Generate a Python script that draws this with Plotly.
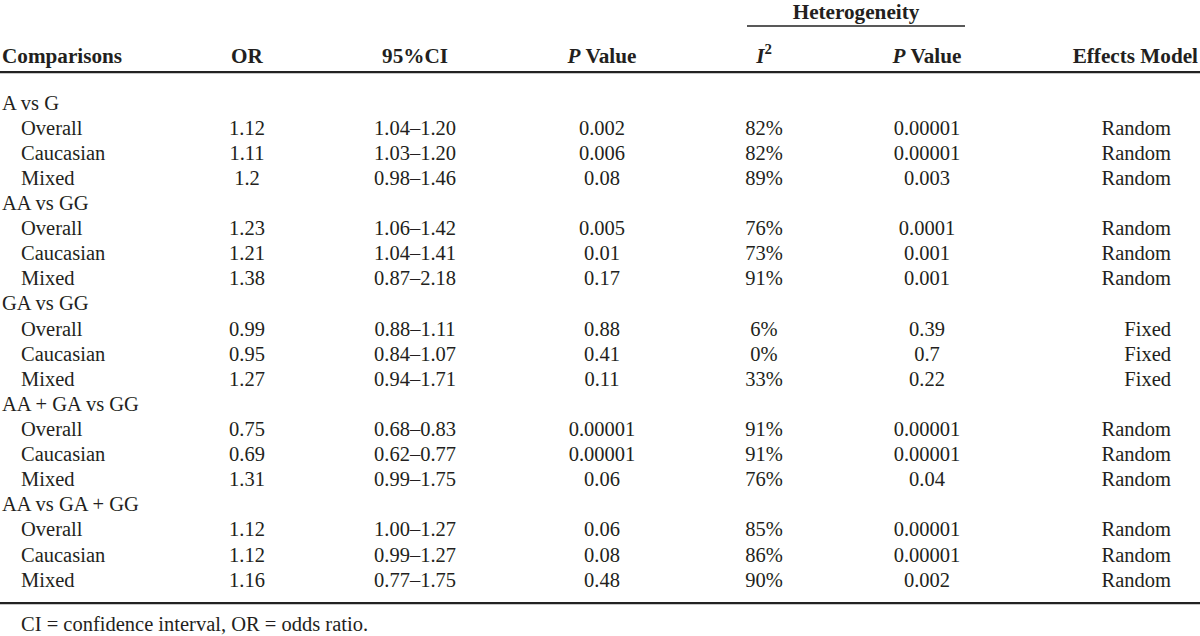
import plotly.graph_objects as go

# ---------------- data ----------------
groups = ["A vs G", "AA vs GG", "GA vs GG", "AA + GA vs GG", "AA vs GA + GG"]
subgroups = ["Overall", "Caucasian", "Mixed"]
odds_ratio = ["1.12", "1.11", "1.2", "1.23", "1.21", "1.38", "0.99", "0.95", "1.27",
              "0.75", "0.69", "1.31", "1.12", "1.12", "1.16"]
ci95 = ["1.04–1.20", "1.03–1.20", "0.98–1.46", "1.06–1.42", "1.04–1.41", "0.87–2.18",
        "0.88–1.11", "0.84–1.07", "0.94–1.71", "0.68–0.83", "0.62–0.77", "0.99–1.75",
        "1.00–1.27", "0.99–1.27", "0.77–1.75"]
p_value = ["0.002", "0.006", "0.08", "0.005", "0.01", "0.17", "0.88", "0.41", "0.11",
           "0.00001", "0.00001", "0.06", "0.06", "0.08", "0.48"]
i_squared = ["82%", "82%", "89%", "76%", "73%", "91%", "6%", "0%", "33%",
             "91%", "91%", "76%", "85%", "86%", "90%"]
het_p = ["0.00001", "0.00001", "0.003", "0.0001", "0.001", "0.001", "0.39", "0.7", "0.22",
         "0.00001", "0.00001", "0.04", "0.00001", "0.00001", "0.002"]
effects_model = ["Random"] * 6 + ["Fixed"] * 3 + ["Random"] * 6
headers = ["Comparisons", "OR", "95%CI", "<i>P</i> Value", "<i>I</i><sup>2</sup>",
           "<i>P</i> Value", "Effects Model"]
super_header = "Heterogeneity"
footnote = "CI = confidence interval, OR = odds ratio."

# ---------------- styling ----------------
FONT = "Liberation Serif, Times New Roman, serif"
COLOR = "#231f20"
SIZE = 20.5
HSIZE = 21.2

# row indices: each group row is followed by its subgroup rows
group_rows = [i * (len(subgroups) + 1) for i in range(len(groups))]
sub_rows = [g + 1 + k for g in group_rows for k in range(len(subgroups))]
sub_labels = subgroups * len(groups)

# column anchors (pixel units on the x axis)
X_LEFT, X_SUB = 2, 21
X_OR, X_CI, X_P, X_I2, X_HP = 247, 415, 602, 764, 927
X_EFF_VAL, X_EFF_HEAD = 1171, 1198

HEADER_ROW = -1.87
SUPER_ROW = -3.62
FOOT_ROW = 20.76

fig = go.Figure()

def text_trace(xs, ys, texts, pos, bold=False, size=SIZE):
    fig.add_trace(go.Scatter(
        x=xs, y=ys, text=[f"<b>{t}</b>" if bold else t for t in texts],
        mode="text", textposition=pos, hoverinfo="skip", showlegend=False,
        cliponaxis=False,
        textfont=dict(family=FONT, size=size, color=COLOR)))

# body
text_trace([X_LEFT] * len(groups), group_rows, groups, "middle right")
text_trace([X_SUB] * len(sub_rows), sub_rows, sub_labels, "middle right")
for xc, col in [(X_OR, odds_ratio), (X_CI, ci95), (X_P, p_value),
                (X_I2, i_squared), (X_HP, het_p)]:
    text_trace([xc] * len(sub_rows), sub_rows, col, "middle center")
text_trace([X_EFF_VAL] * len(sub_rows), sub_rows, effects_model, "middle left")

# headers
text_trace([X_LEFT], [HEADER_ROW], [headers[0]], "middle right", bold=True, size=HSIZE)
text_trace([X_OR, X_CI, X_P, X_I2, X_HP], [HEADER_ROW] * 5, headers[1:6],
           "middle center", bold=True, size=HSIZE)
text_trace([X_EFF_HEAD], [HEADER_ROW], [headers[6]], "middle left", bold=True, size=HSIZE)
text_trace([856], [SUPER_ROW], [super_header], "middle center", bold=True, size=HSIZE)

# footnote
text_trace([X_SUB], [FOOT_ROW], [footnote], "middle right")

# rules
fig.add_shape(type="line", x0=747, x1=965, y0=-3.13, y1=-3.13,
              line=dict(color="#222", width=1.6))
fig.add_shape(type="line", x0=0, x1=1200, y0=-1.295, y1=-1.295,
              line=dict(color="#222", width=2.2))
fig.add_shape(type="line", x0=0, x1=1200, y0=19.86, y1=19.86,
              line=dict(color="#222", width=2.2))

fig.update_layout(
    width=1200, height=636,
    margin=dict(l=0, r=0, t=0, b=0),
    paper_bgcolor="white", plot_bgcolor="white",
    xaxis=dict(range=[0, 1200], visible=False, fixedrange=True),
    yaxis=dict(range=[21.17, -4.164], visible=False, fixedrange=True),
    showlegend=False,
)

# remove the default 8px body margin so the figure sits at the window origin
fig.write_html("out.html",
               config={"displayModeBar": False},
               post_script="document.body.style.margin='0';document.body.style.overflow='hidden';")
